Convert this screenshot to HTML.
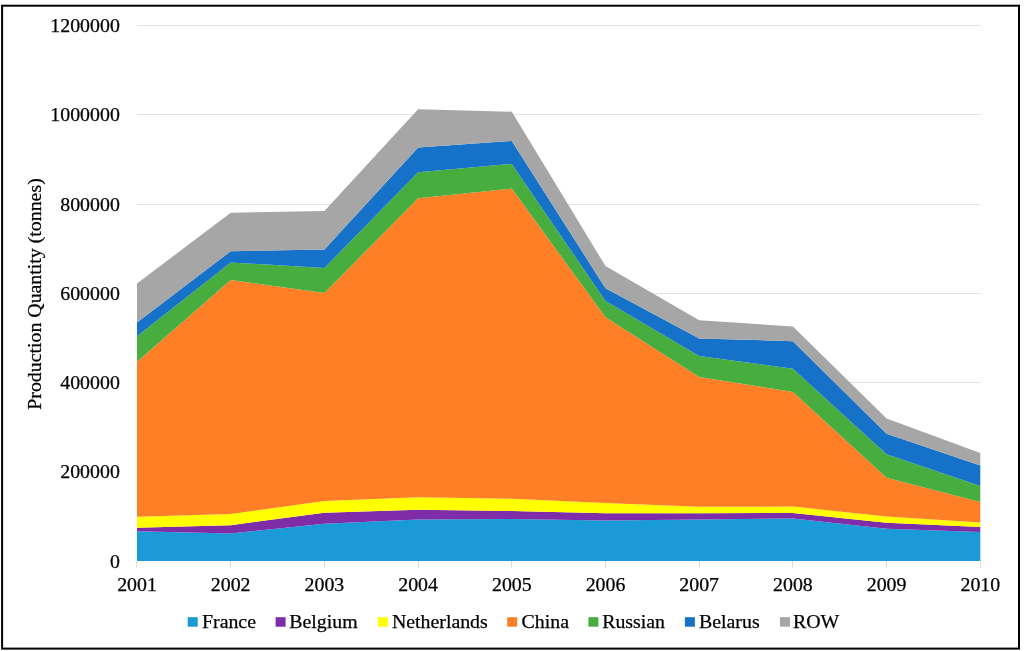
<!DOCTYPE html>
<html><head><meta charset="utf-8"><style>
html,body{margin:0;padding:0;background:#fff;}
body{width:1024px;height:651px;overflow:hidden;}
svg{display:block;will-change:transform;}
.t{font-family:"Liberation Serif",serif;font-size:19.85px;fill:#000;stroke:#000;stroke-width:0.25px;}
</style></head><body>
<svg width="1024" height="651" viewBox="0 0 1024 651">
<line x1="137" x2="980.5" y1="25.5" y2="25.5" stroke="#E3E3E3" stroke-width="1"/><line x1="137" x2="980.5" y1="114.5" y2="114.5" stroke="#E3E3E3" stroke-width="1"/><line x1="137" x2="980.5" y1="204.5" y2="204.5" stroke="#E3E3E3" stroke-width="1"/><line x1="137" x2="980.5" y1="293.5" y2="293.5" stroke="#E3E3E3" stroke-width="1"/><line x1="137" x2="980.5" y1="382.5" y2="382.5" stroke="#E3E3E3" stroke-width="1"/><line x1="137" x2="980.5" y1="471.5" y2="471.5" stroke="#E3E3E3" stroke-width="1"/>
<line x1="136.5" x2="136.5" y1="561" y2="568" stroke="#DDDDDD" stroke-width="1"/><line x1="230.5" x2="230.5" y1="561" y2="568" stroke="#DDDDDD" stroke-width="1"/><line x1="324.5" x2="324.5" y1="561" y2="568" stroke="#DDDDDD" stroke-width="1"/><line x1="418.5" x2="418.5" y1="561" y2="568" stroke="#DDDDDD" stroke-width="1"/><line x1="511.5" x2="511.5" y1="561" y2="568" stroke="#DDDDDD" stroke-width="1"/><line x1="605.5" x2="605.5" y1="561" y2="568" stroke="#DDDDDD" stroke-width="1"/><line x1="699.5" x2="699.5" y1="561" y2="568" stroke="#DDDDDD" stroke-width="1"/><line x1="792.5" x2="792.5" y1="561" y2="568" stroke="#DDDDDD" stroke-width="1"/><line x1="886.5" x2="886.5" y1="561" y2="568" stroke="#DDDDDD" stroke-width="1"/><line x1="980.5" x2="980.5" y1="561" y2="568" stroke="#DDDDDD" stroke-width="1"/>
<path d="M137,531.3 L230.7,533.5 L324.4,523.7 L418.1,519.6 L511.8,519 L605.5,520.4 L699.2,519.5 L792.9,518.5 L886.6,528.7 L980.3,531.9 L980.3,561 L886.6,561 L792.9,561 L699.2,561 L605.5,561 L511.8,561 L418.1,561 L324.4,561 L230.7,561 L137,561 Z" fill="#1A9BD7"/>
<path d="M137,527.7 L230.7,525.2 L324.4,512.8 L418.1,509.8 L511.8,510.9 L605.5,513.3 L699.2,513.3 L792.9,513 L886.6,522.7 L980.3,527 L980.3,531.9 L886.6,528.7 L792.9,518.5 L699.2,519.5 L605.5,520.4 L511.8,519 L418.1,519.6 L324.4,523.7 L230.7,533.5 L137,531.3 Z" fill="#7E2CA7"/>
<path d="M137,516.8 L230.7,514 L324.4,501.1 L418.1,497.3 L511.8,498.7 L605.5,503 L699.2,506.7 L792.9,506.6 L886.6,516.4 L980.3,522.4 L980.3,527 L886.6,522.7 L792.9,513 L699.2,513.3 L605.5,513.3 L511.8,510.9 L418.1,509.8 L324.4,512.8 L230.7,525.2 L137,527.7 Z" fill="#FFFF00"/>
<path d="M137,361.8 L230.7,280.1 L324.4,293 L418.1,198.2 L511.8,188.6 L605.5,317.3 L699.2,376.9 L792.9,391.9 L886.6,477.8 L980.3,501.9 L980.3,522.4 L886.6,516.4 L792.9,506.6 L699.2,506.7 L605.5,503 L511.8,498.7 L418.1,497.3 L324.4,501.1 L230.7,514 L137,516.8 Z" fill="#FF7F27"/>
<path d="M137,336.2 L230.7,262.4 L324.4,268.1 L418.1,172.3 L511.8,163.9 L605.5,301.1 L699.2,356.1 L792.9,368.7 L886.6,454.3 L980.3,486.1 L980.3,501.9 L886.6,477.8 L792.9,391.9 L699.2,376.9 L605.5,317.3 L511.8,188.6 L418.1,198.2 L324.4,293 L230.7,280.1 L137,361.8 Z" fill="#47AD3E"/>
<path d="M137,322.5 L230.7,251.2 L324.4,249.5 L418.1,147.4 L511.8,141 L605.5,288.3 L699.2,338.4 L792.9,341.2 L886.6,433.7 L980.3,465.6 L980.3,486.1 L886.6,454.3 L792.9,368.7 L699.2,356.1 L605.5,301.1 L511.8,163.9 L418.1,172.3 L324.4,268.1 L230.7,262.4 L137,336.2 Z" fill="#1672C8"/>
<path d="M137,283.5 L230.7,212.7 L324.4,211 L418.1,109.2 L511.8,111.7 L605.5,266.1 L699.2,320.3 L792.9,326.5 L886.6,418.6 L980.3,452.9 L980.3,465.6 L886.6,433.7 L792.9,341.2 L699.2,338.4 L605.5,288.3 L511.8,141 L418.1,147.4 L324.4,249.5 L230.7,251.2 L137,322.5 Z" fill="#A6A6A6"/>
<text x="119.8" y="32.1" text-anchor="end" class="t">1200000</text><text x="119.8" y="121.35" text-anchor="end" class="t">1000000</text><text x="119.8" y="210.6" text-anchor="end" class="t">800000</text><text x="119.8" y="299.85" text-anchor="end" class="t">600000</text><text x="119.8" y="389.1" text-anchor="end" class="t">400000</text><text x="119.8" y="478.35" text-anchor="end" class="t">200000</text><text x="119.8" y="567.6" text-anchor="end" class="t">0</text>
<text x="137" y="591.1" text-anchor="middle" class="t">2001</text><text x="230.7" y="591.1" text-anchor="middle" class="t">2002</text><text x="324.4" y="591.1" text-anchor="middle" class="t">2003</text><text x="418.1" y="591.1" text-anchor="middle" class="t">2004</text><text x="511.8" y="591.1" text-anchor="middle" class="t">2005</text><text x="605.5" y="591.1" text-anchor="middle" class="t">2006</text><text x="699.2" y="591.1" text-anchor="middle" class="t">2007</text><text x="792.9" y="591.1" text-anchor="middle" class="t">2008</text><text x="886.6" y="591.1" text-anchor="middle" class="t">2009</text><text x="980.3" y="591.1" text-anchor="middle" class="t">2010</text>
<rect x="187.7" y="617.2" width="10" height="9.5" fill="#1A9BD7"/><text x="202" y="627.7" class="t">France</text><rect x="275.6" y="617.2" width="10" height="9.5" fill="#7E2CA7"/><text x="289.3" y="627.7" class="t">Belgium</text><rect x="377.9" y="617.2" width="10" height="9.5" fill="#FFFF00"/><text x="391.9" y="627.7" class="t">Netherlands</text><rect x="507.2" y="617.2" width="10" height="9.5" fill="#FF7F27"/><text x="521.6" y="627.7" class="t">China</text><rect x="588.4" y="617.2" width="10" height="9.5" fill="#47AD3E"/><text x="602.2" y="627.7" class="t">Russian</text><rect x="684.9" y="617.2" width="10" height="9.5" fill="#1672C8"/><text x="699" y="627.7" class="t">Belarus</text><rect x="780" y="617.2" width="10" height="9.5" fill="#A6A6A6"/><text x="793" y="627.7" class="t">ROW</text>
<text transform="translate(41.4,294) rotate(-90)" text-anchor="middle" class="t" style="font-size:19.85px">Production Quantity (tonnes)</text>

<rect x="2.1" y="5.7" width="1016.9" height="642.9" fill="none" stroke="#000" stroke-width="2"/>
</svg>
</body></html>
